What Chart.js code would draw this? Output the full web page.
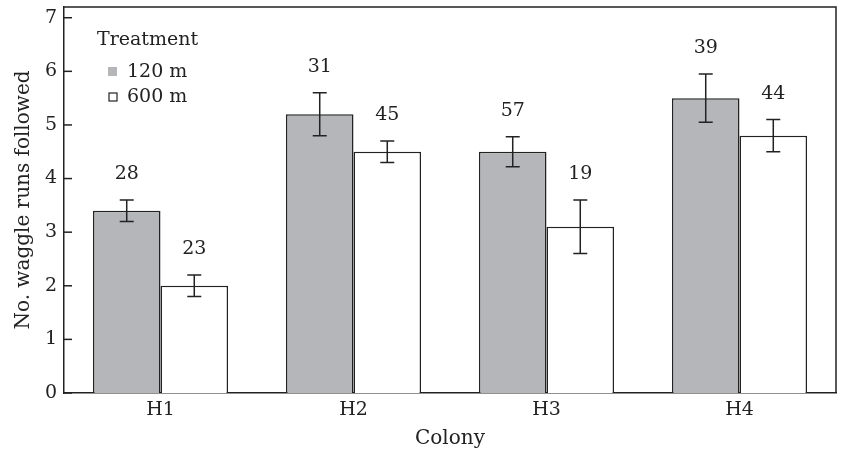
<!DOCTYPE html>
<html>
<head>
<meta charset="utf-8">
<script src="https://cdn.jsdelivr.net/npm/chart.js@4"></script>
<style>
  html, body { margin: 0; padding: 0; background: #fff; }
  #wrap { width: 842px; height: 451px; }
</style>
</head>
<body>
<div id="wrap"><canvas id="chart"></canvas></div>
<script>
const colonies = ['H1', 'H2', 'H3', 'H4'];
const mean120 = [3.4, 5.2, 4.5, 5.5];
const low120 = [3.2, 4.8, 4.22, 5.05];
const high120 = [3.6, 5.6, 4.78, 5.95];
const mean600 = [2.0, 4.5, 3.1, 4.8];
const low600 = [1.8, 4.3, 2.6, 4.5];
const high600 = [2.2, 4.7, 3.6, 5.1];
const n120 = [28, 31, 57, 39];
const n600 = [23, 45, 19, 44];
const yTicks = [0, 1, 2, 3, 4, 5, 6, 7];

const FONT = '"DejaVu Serif", "Liberation Serif", serif';
const INK = '#222';
const GREY = '#b5b6b9';

const lows = [low120, low600];
const highs = [high120, high600];
const counts = [n120, n600];

// error bars, sample sizes, inward ticks, frame, legend
const extras = {
    id: 'extras',
    afterDatasetsDraw(chart) {
        const ctx = chart.ctx;
        const y = chart.scales.y;
        const area = chart.chartArea;
        ctx.save();
        ctx.strokeStyle = INK;
        ctx.fillStyle = INK;
        ctx.lineWidth = 1.5;

        chart.data.datasets.forEach((ds, di) => {
            const meta = chart.getDatasetMeta(di);
            meta.data.forEach((bar, i) => {
                const x = bar.x;
                const yl = y.getPixelForValue(lows[di][i]);
                const yh = y.getPixelForValue(highs[di][i]);
                ctx.beginPath();
                ctx.moveTo(x, yl); ctx.lineTo(x, yh);
                ctx.moveTo(x - 7, yl); ctx.lineTo(x + 7, yl);
                ctx.moveTo(x - 7, yh); ctx.lineTo(x + 7, yh);
                ctx.stroke();

                ctx.font = '19px ' + FONT;
                ctx.textAlign = 'center';
                ctx.textBaseline = 'middle';
                ctx.fillText(String(counts[di][i]), x, yh - 26);
            });
        });

        // frame top and right
        ctx.lineWidth = 1.5;
        ctx.beginPath();
        ctx.moveTo(area.left, area.top);
        ctx.lineTo(area.right, area.top);
        ctx.lineTo(area.right, area.bottom);
        ctx.stroke();

        // inward y ticks
        yTicks.forEach(v => {
            const py = y.getPixelForValue(v);
            ctx.beginPath();
            ctx.moveTo(area.left, py);
            ctx.lineTo(area.left + 8, py);
            ctx.stroke();
        });

        // legend
        ctx.font = '19px ' + FONT;
        ctx.textAlign = 'left';
        ctx.textBaseline = 'middle';
        ctx.fillText('Treatment', 97, 40);
        ctx.fillStyle = GREY;
        ctx.fillRect(108, 67, 9, 9);
        ctx.fillStyle = INK;
        ctx.fillText('120 m', 127, 72);
        ctx.lineWidth = 1.2;
        ctx.strokeRect(109, 93, 8, 8);
        ctx.fillText('600 m', 127, 97);
        ctx.restore();
    }
};

new Chart(document.getElementById('chart'), {
    type: 'bar',
    data: {
        labels: colonies,
        datasets: [
            {
                label: '120 m',
                data: mean120,
                backgroundColor: GREY,
                borderColor: INK,
                borderWidth: 1.5,
                categoryPercentage: 0.7,
                barPercentage: 1.0
            },
            {
                label: '600 m',
                data: mean600,
                backgroundColor: '#ffffff',
                borderColor: INK,
                borderWidth: 1.5,
                categoryPercentage: 0.7,
                barPercentage: 1.0
            }
        ]
    },
    options: {
        responsive: true,
        maintainAspectRatio: false,
        animation: false,
        layout: { padding: { top: 7, right: 6, left: 0, bottom: 0 } },
        scales: {
            x: {
                grid: { display: false, drawTicks: false },
                border: { display: true, color: INK, width: 1.5 },
                ticks: { color: INK, font: { family: FONT, size: 19 }, padding: 6 },
                title: {
                    display: true,
                    text: 'Colony',
                    color: INK,
                    font: { family: FONT, size: 20 },
                    padding: { top: 2, bottom: 0 }
                },
                afterFit(scale) {
                    scale.height = 58;
                    scale.paddingLeft = 0;
                    scale.paddingRight = 0;
                }
            },
            y: {
                min: 0,
                max: 7.2,
                grid: { display: false, drawTicks: false },
                border: { display: true, color: INK, width: 1.5 },
                afterBuildTicks(scale) {
                    scale.ticks = yTicks.map(v => ({ value: v }));
                },
                ticks: { color: INK, font: { family: FONT, size: 19 }, padding: 7 },
                title: {
                    display: true,
                    text: 'No. waggle runs followed',
                    color: INK,
                    font: { family: FONT, size: 20 },
                    padding: { top: 12, bottom: 0 }
                },
                afterFit(scale) {
                    scale.width = 64;
                    scale.paddingTop = 0;
                    scale.paddingBottom = 0;
                }
            }
        },
        plugins: {
            legend: { display: false },
            tooltip: { enabled: false }
        }
    },
    plugins: [extras]
});
</script>
</body>
</html>
